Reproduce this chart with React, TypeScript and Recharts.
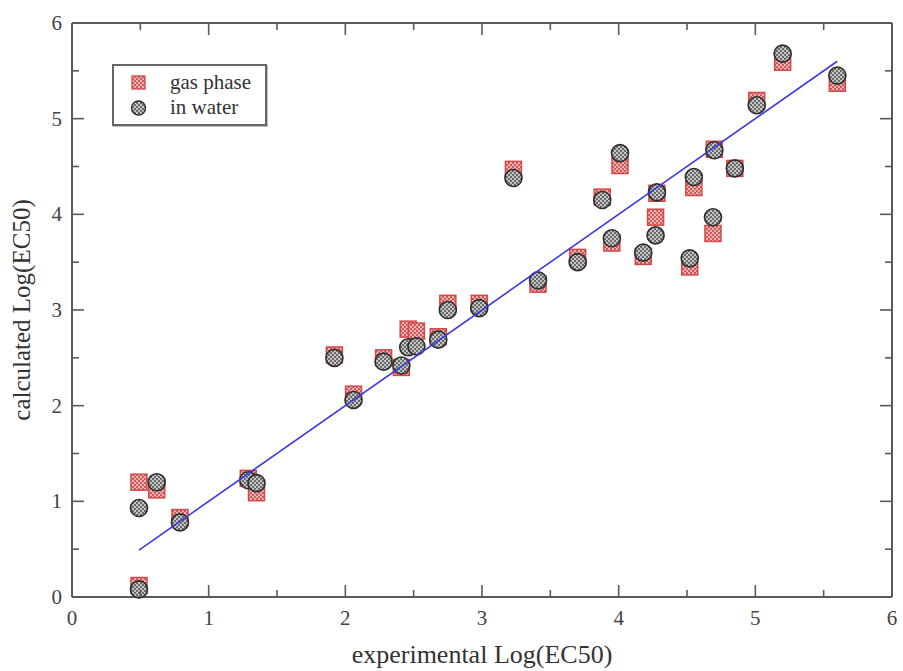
import React from "react";
import { ScatterChart, Scatter, XAxis, YAxis, Legend } from "recharts";

// experimental Log(EC50)
const experimental = [
  0.49, 0.49, 0.62, 0.79, 1.29, 1.35, 1.92, 2.06, 2.28, 2.41, 2.46, 2.52, 2.68, 2.75, 2.98, 3.23,
  3.41, 3.7, 3.88, 3.95, 4.01, 4.18, 4.27, 4.28, 4.52, 4.55, 4.69, 4.7, 4.85, 5.01, 5.2, 5.6,
];
// calculated Log(EC50), gas phase
const gasPhase = [
  0.12, 1.2, 1.12, 0.83, 1.24, 1.09, 2.53, 2.12, 2.5, 2.4, 2.8, 2.78, 2.72, 3.07, 3.07, 4.47,
  3.27, 3.55, 4.18, 3.7, 4.51, 3.56, 3.97, 4.22, 3.45, 4.28, 3.8, 4.68, 4.48, 5.19, 5.59, 5.37,
];
// calculated Log(EC50), in water
const inWater = [
  0.08, 0.93, 1.2, 0.78, 1.22, 1.19, 2.5, 2.06, 2.46, 2.42, 2.61, 2.62, 2.69, 3.0, 3.02, 4.38,
  3.31, 3.5, 4.15, 3.75, 4.64, 3.6, 3.78, 4.23, 3.54, 4.39, 3.97, 4.67, 4.48, 5.14, 5.68, 5.45,
];
// fitted line end points
const fitX = [0.49, 5.6];
const fitY = [0.49, 5.6];

const axisTicks = [0, 0.5, 1, 1.5, 2, 2.5, 3, 3.5, 4, 4.5, 5, 5.5, 6];

const gasData = experimental.map((x, i) => ({ x, y: gasPhase[i] }));
const waterData = experimental.map((x, i) => ({ x, y: inWater[i] }));
const fitData = fitX.map((x, i) => ({ x, y: fitY[i] }));

const FONT = "'Liberation Serif', 'Times New Roman', serif";
const AXIS = "#5a5a5a";
const MAJOR = 12;
const MINOR = 7;

const Patterns = () => (
  <defs>
    <pattern id="pat-water" width="4" height="4" patternUnits="userSpaceOnUse">
      <rect width="4" height="4" fill="#6a6a6a" />
      <rect x="0" y="0" width="2" height="2" fill="#c4c4c4" />
      <rect x="2" y="2" width="2" height="2" fill="#c4c4c4" />
    </pattern>
    <pattern id="pat-gas" width="4" height="4" patternUnits="userSpaceOnUse">
      <rect width="4" height="4" fill="#d05a5a" />
      <rect x="0" y="0" width="2" height="2" fill="#e9b3b3" />
      <rect x="2" y="2" width="2" height="2" fill="#e9b3b3" />
    </pattern>
  </defs>
);

const SquareShape = (props: any) => {
  const { cx, cy } = props;
  if (cx == null || cy == null) return null;
  const s = 16;
  return (
    <g>
      <Patterns />
      <rect x={cx - s / 2} y={cy - s / 2} width={s} height={s} fill="url(#pat-gas)" stroke="#d64848" strokeWidth={1.5} />
    </g>
  );
};

const CircleShape = (props: any) => {
  const { cx, cy } = props;
  if (cx == null || cy == null) return null;
  return (
    <g>
      <Patterns />
      <circle cx={cx} cy={cy} r={8.5} fill="url(#pat-water)" stroke="#2e2e2e" strokeWidth={1.6} />
    </g>
  );
};

const NoShape = () => <g />;

const isMajor = (v: number) => Math.abs(v - Math.round(v)) < 1e-6;

const BottomTick = (props: any) => {
  const { x, y, payload } = props;
  const major = isMajor(payload.value);
  return (
    <g>
      <line x1={x} x2={x} y1={y} y2={y - (major ? MAJOR : MINOR)} stroke={AXIS} strokeWidth={1.6} />
      {major && (
        <text x={x} y={y + 28} textAnchor="middle" fontFamily={FONT} fontSize={21} fill="#444">
          {payload.value}
        </text>
      )}
    </g>
  );
};

const TopTick = (props: any) => {
  const { x, y, payload } = props;
  const major = isMajor(payload.value);
  return <line x1={x} x2={x} y1={y} y2={y + (major ? MAJOR : MINOR)} stroke={AXIS} strokeWidth={1.6} />;
};

const LeftTick = (props: any) => {
  const { x, y, payload } = props;
  const major = isMajor(payload.value);
  return (
    <g>
      <line x1={x} x2={x + (major ? MAJOR : MINOR)} y1={y} y2={y} stroke={AXIS} strokeWidth={1.6} />
      {major && (
        <text x={x - 10} y={y + 7} textAnchor="end" fontFamily={FONT} fontSize={21} fill="#444">
          {payload.value}
        </text>
      )}
    </g>
  );
};

const RightTick = (props: any) => {
  const { x, y, payload } = props;
  const major = isMajor(payload.value);
  return <line x1={x} x2={x - (major ? MAJOR : MINOR)} y1={y} y2={y} stroke={AXIS} strokeWidth={1.6} />;
};

const XLabel = (props: any) => {
  const vb = props.viewBox || {};
  return (
    <text x={vb.x + vb.width / 2} y={vb.y + 66} textAnchor="middle" fontFamily={FONT} fontSize={26} fill="#333">
      experimental Log(EC50)
    </text>
  );
};

const YLabel = (props: any) => {
  const vb = props.viewBox || {};
  const cx = vb.x + vb.width - 42;
  const cy = vb.y + vb.height / 2;
  return (
    <text x={cx} y={cy} textAnchor="middle" fontFamily={FONT} fontSize={25} fill="#333" transform={`rotate(-90 ${cx} ${cy})`}>
      calculated Log(EC50)
    </text>
  );
};

const LegendBox = () => (
  <div
    style={{
      border: "2px solid #666",
      boxShadow: "1px 1px 0 #bbb",
      background: "#fff",
      width: 155,
      height: 62,
      boxSizing: "border-box",
      position: "relative",
      fontFamily: FONT,
      fontSize: 21,
      color: "#333",
    }}
  >
    <svg width={40} height={58} style={{ position: "absolute", left: 0, top: 0 }}>
      <Patterns />
      <rect x={18} y={10} width={13} height={13} fill="url(#pat-gas)" stroke="#d64848" strokeWidth={1.3} />
      <circle cx={24.5} cy={42} r={7} fill="url(#pat-water)" stroke="#2e2e2e" strokeWidth={1.4} />
    </svg>
    <div style={{ position: "absolute", left: 56, top: 4, lineHeight: "24px", whiteSpace: "nowrap" }}>gas phase</div>
    <div style={{ position: "absolute", left: 56, top: 29, lineHeight: "24px", whiteSpace: "nowrap" }}>in water</div>
  </div>
);

export default function App() {
  return (
    <div style={{ position: "absolute", left: 0, top: 0, background: "#fff" }}>
      <ScatterChart width={903} height={671} margin={{ top: 13, right: 1, bottom: 34, left: 32 }}>
        <XAxis
          xAxisId="b"
          dataKey="x"
          type="number"
          domain={[0, 6]}
          ticks={axisTicks}
          interval={0}
          height={40}
          tickSize={0}
          tickMargin={0}
          tickLine={false}
          tick={<BottomTick />}
          axisLine={{ stroke: AXIS, strokeWidth: 2 }}
          label={<XLabel />}
        />
        <XAxis
          xAxisId="t"
          orientation="top"
          dataKey="x"
          type="number"
          domain={[0, 6]}
          ticks={axisTicks}
          interval={0}
          height={10}
          tickSize={0}
          tickMargin={0}
          tickLine={false}
          tick={<TopTick />}
          axisLine={{ stroke: AXIS, strokeWidth: 2 }}
        />
        <YAxis
          yAxisId="l"
          dataKey="y"
          type="number"
          domain={[0, 6]}
          ticks={axisTicks}
          interval={0}
          width={40}
          tickSize={0}
          tickMargin={0}
          tickLine={false}
          tick={<LeftTick />}
          axisLine={{ stroke: AXIS, strokeWidth: 2 }}
          label={<YLabel />}
        />
        <YAxis
          yAxisId="r"
          orientation="right"
          dataKey="y"
          type="number"
          domain={[0, 6]}
          ticks={axisTicks}
          interval={0}
          width={10}
          tickSize={0}
          tickMargin={0}
          tickLine={false}
          tick={<RightTick />}
          axisLine={{ stroke: AXIS, strokeWidth: 2 }}
        />
        <Scatter
          name="gas phase"
          data={gasData}
          xAxisId="b"
          yAxisId="l"
          shape={<SquareShape />}
          isAnimationActive={false}
        />
        <Scatter
          name="in water"
          data={waterData}
          xAxisId="b"
          yAxisId="l"
          shape={<CircleShape />}
          isAnimationActive={false}
        />
        <Scatter
          name="fit"
          data={fitData}
          xAxisId="t"
          yAxisId="r"
          shape={<NoShape />}
          line={{ stroke: "#3b3bdc", strokeWidth: 1.6 }}
          isAnimationActive={false}
          legendType="none"
        />
        <Legend
          layout="vertical"
          align="center"
          verticalAlign="middle"
          content={<LegendBox />}
          wrapperStyle={{ left: 112, top: 64, width: 155, height: 62, right: "auto", bottom: "auto" }}
        />
      </ScatterChart>
    </div>
  );
}
